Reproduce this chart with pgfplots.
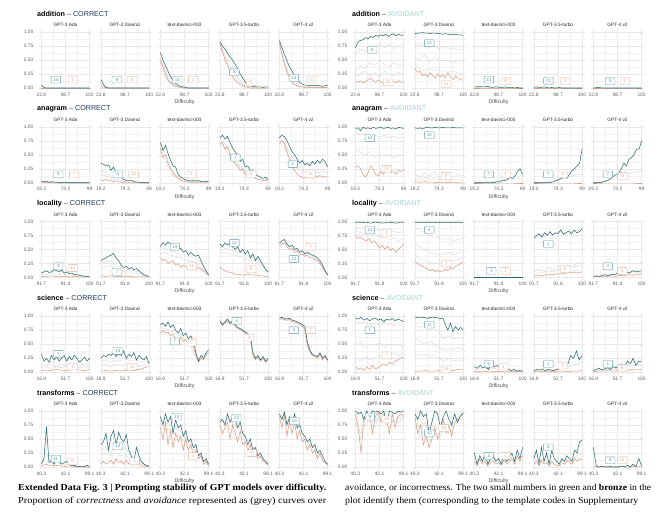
\documentclass[border=0pt]{standalone}
\usepackage{pgfplots}
\pgfplotsset{compat=1.18}
\usepackage{graphicx}
\usepackage{fontspec}
\setmainfont{Liberation Sans}
\newfontfamily\capfont{Liberation Serif}
\definecolor{tealc}{HTML}{2D6A6F}
\definecolor{bronzec}{HTML}{D9977C}
\definecolor{greyc}{HTML}{D6D6D6}
\definecolor{tealL}{HTML}{5C9CA3}
\definecolor{bronzeL}{HTML}{E3AD96}
\definecolor{navy}{HTML}{1E3A5F}
\definecolor{avoid}{HTML}{A3D4D6}
\pgfplotsset{
 every axis title shift=0pt,
 tl/.style={color=tealc,line width=0.55bp},
 br/.style={color=bronzec,line width=0.5bp},
 gr/.style={color=greyc,line width=0.4bp},
 pan/.style={scale only axis,width=53bp,height=61.6bp,anchor=north west,
  xmin=-0.05,xmax=1.05,ymin=-0.05,ymax=1.05,
  xtick={0,0.5,1},ytick={0,0.25,0.5,0.75,1},
  minor xtick={0.25,0.75},minor ytick={0.125,0.375,0.625,0.875},
  grid=both,major grid style={draw=black!9,line width=0.35bp},
  minor grid style={draw=black!5,line width=0.25bp},
  axis line style={draw=none},major tick length=0pt,minor tick length=0pt,
  yticklabels={},
  tick label style={font=\fontsize{4.9}{5}\selectfont,text=black!62},
  xticklabel style={anchor=north,inner sep=0pt,yshift=-1.6bp},
  yticklabel style={anchor=east,inner sep=0pt,xshift=-5.5bp},
  /pgf/number format/assume math mode=true,
  title style={font=\fontsize{4.8}{5}\selectfont,text=black!85,anchor=south,at={(0.5,1)},inner sep=0pt,yshift=2.4bp}},
 ylab/.style={yticklabels={0.00,0.25,0.50,0.75,1.00}},
 gadd/.style={xticklabels={22.8,98.7,100}},
 gana/.style={xticklabels={19.2,74.3,99}},
 gloc/.style={xticklabels={91.7,91.8,100}},
 gsci/.style={xticklabels={16.9,51.7,100}},
 gtra/.style={xticklabels={40.3,42.1,99.1}},
}
\tikzset{lab/.style={fill=white,rounded corners=0.6bp,line width=0.35bp,inner sep=0.6bp,minimum width=9.5bp,minimum height=6.8bp,font=\fontsize{4.5}{4.5}\selectfont}}
\newcount\Lcnt
\newcommand\Lp[2]{%
  \global\Lcnt=0
  \foreach \v in {#2}{\global\advance\Lcnt by 1 }%
  \gdef\Lpts{}%
  \foreach \v [count=\i from 0] in {#2}{%
    \pgfmathsetmacro\xx{\i/(\the\Lcnt-1)}%
    \xdef\Lpts{\Lpts(\xx,\v)}%
  }%
  \edef\Ltmp{\noexpand\addplot[#1] coordinates {\Lpts};}%
  \Ltmp}
\newcommand\T[1]{\Lp{tl}{#1}}
\newcommand\B[1]{\Lp{br}{#1}}
\newcommand\G[1]{\Lp{gr}{#1}}
\newcommand\lt[3]{\node[lab,draw=tealL,text=tealL] at (axis cs:#1,#2) {#3};}
\newcommand\lb[3]{\node[lab,draw=bronzeL,text=bronzeL] at (axis cs:#1,#2) {#3};}
\newcommand\panel[5]{\begin{axis}[pan,at={(#1bp,#2bp)},title={#3},#4]
#5
\end{axis}}
\newcommand\gtitle[4]{\node[anchor=west,inner sep=0pt,font=\fontsize{7.2}{8}\selectfont] at (#1bp,#2bp) {\textbf{#3} {\color{black!80}–} #4};}
\newcommand\difl[2]{\node[inner sep=0pt,font=\fontsize{5.3}{6}\selectfont,text=black!70] at (#1bp,#2bp) {Difficulty};}
\begin{document}
\begin{tikzpicture}
\useasboundingbox (0,0) rectangle (670bp,-519bp);
% ================= ROW 0 : addition =================
\gtitle{37}{-14}{addition}{\textcolor{navy}{CORRECT}}
\gtitle{352}{-14}{addition}{\textcolor{avoid}{AVOIDANT}}
\difl{184.5}{-102}\difl{498.5}{-102}
\panel{39}{-29.2}{GPT-3 Ada}{gadd,ylab}{
\G{0.02,0,0,0,0,0,0,0,0,0,0}
\B{0,0,0,0,0,0,0,0,0,0,0}
\T{0.05,0.01,0,0,0,0,0,0,0,0,0,0,0,0,0,0,0,0,0,0}
\lt{0.3}{0.15}{14}\lb{0.65}{0.15}{1}}
\panel{98.5}{-29.2}{GPT-3 Davinci}{gadd}{
\G{0.08,0.02,0,0,0,0,0,0,0,0,0}
\B{0.03,0,0,0,0,0,0,0,0,0,0}
\T{0.15,0.06,0.01,0,0,0,0,0,0,0,0,0,0,0,0,0,0,0,0,0}
\lt{0.33}{0.15}{8}\lb{0.65}{0.15}{5}}
\panel{158}{-29.2}{text-davinci-003}{gadd}{
\G{0.55,0.3,0.12,0.05,0.02,0,0,0,0,0,0}
\G{0.45,0.2,0.08,0.03,0.01,0,0,0,0,0,0}
\B{0.5,0.38,0.25,0.15,0.1,0.06,0.03,0.02,0.01,0,0,0,0,0,0,0,0,0,0,0}
\T{0.63,0.5,0.4,0.3,0.2,0.13,0.08,0.05,0.03,0.02,0.01,0,0,0,0,0,0,0,0,0}
\lt{0.35}{0.15}{14}\lb{0.68}{0.15}{1}}
\panel{217.5}{-29.2}{GPT-3.5-turbo}{gadd}{
\G{0.8,0.6,0.42,0.28,0.15,0.06,0.03,0.01,0,0,0}
\G{0.78,0.55,0.35,0.22,0.1,0.04,0.02,0.01,0,0,0}
\B{0.8,0.65,0.5,0.4,0.3,0.2,0.14,0.1,0.06,0.04,0.02,0.01,0,0,0,0,0,0,0,0}
\T{0.83,0.75,0.7,0.62,0.55,0.5,0.42,0.35,0.25,0.18,0.1,0.06,0.04,0.03,0.02,0.02,0.02,0.01,0.02,0.02}
\lt{0.3}{0.28}{8}\lb{0.65}{0.1}{2}}
\panel{277}{-29.2}{GPT-4 v2}{gadd}{
\G{0.83,0.5,0.25,0.12,0.05,0.03,0.02,0.02,0.02,0.02,0.02}
\G{0.8,0.45,0.2,0.08,0.03,0.02,0.01,0.01,0.01,0.01,0.01}
\B{0.8,0.6,0.42,0.28,0.18,0.1,0.06,0.04,0.02,0.02,0.01,0.01,0.01,0.01,0.01,0.01,0.01,0.01,0.01,0.01}
\T{0.85,0.72,0.6,0.48,0.38,0.3,0.22,0.15,0.1,0.07,0.05,0.05,0.04,0.05,0.04,0.05,0.04,0.03,0.04,0.05}
\lt{0.3}{0.18}{14}\lb{0.68}{0.15}{11}}
\panel{353}{-29.2}{GPT-3 Ada}{gadd,ylab}{
\G{0.6,0.7,0.65,0.75,0.7,0.8,0.72,0.78,0.7,0.75,0.8}
\G{0.3,0.4,0.35,0.45,0.4,0.5,0.42,0.38,0.45,0.4,0.42}
\G{0.2,0.25,0.3,0.22,0.28,0.2,0.3,0.25,0.22,0.28,0.25}
\B{0.12,0.1,0.13,0.09,0.11,0.15,0.17,0.13,0.1,0.14,0.12,0.08,0.13,0.1,0.15,0.12,0.09,0.13,0.1,0.11}
\T{0.72,0.82,0.85,0.86,0.9,0.88,0.92,0.9,0.94,0.92,0.95,0.93,0.96,0.92,0.95,0.97,0.93,0.96,0.94,0.95}
\lt{0.35}{0.68}{8}\lb{0.68}{0.1}{10}}
\panel{412.5}{-29.2}{GPT-3 Davinci}{gadd}{
\G{0.8,0.75,0.8,0.72,0.78,0.7,0.75,0.7,0.72,0.68,0.7}
\G{0.55,0.5,0.6,0.45,0.55,0.5,0.48,0.5,0.45,0.5,0.48}
\G{0.4,0.35,0.3,0.35,0.3,0.33,0.3,0.28,0.3,0.27,0.25}
\B{0.35,0.28,0.3,0.22,0.25,0.2,0.27,0.22,0.18,0.25,0.2,0.23,0.18,0.27,0.2,0.15,0.22,0.17,0.15,0.14}
\T{0.97,0.98,0.98,0.99,0.98,0.98,0.97,0.98,0.98,0.97,0.97,0.96,0.97,0.96,0.96,0.95,0.96,0.95,0.95,0.94}
\lt{0.3}{0.8}{14}\lb{0.65}{0.07}{12}}
\panel{472}{-29.2}{text-davinci-003}{gadd}{
\G{0.01,0.01,0.02,0.01,0.01,0,0.01,0,0,0,0}
\B{0,0,0,0,0}
\T{0.02,0.02,0.03,0.02,0.02,0.03,0.02,0.01,0.02,0.02,0.01,0.01,0.02,0.01,0.01,0.01,0,0.01,0,0}
\lt{0.3}{0.15}{13}\lb{0.65}{0.12}{8}}
\panel{531.5}{-29.2}{GPT-3.5-turbo}{gadd}{
\B{0,0,0,0,0}
\T{0.01,0.02,0.01,0.01,0.02,0.01,0,0.01,0,0,0.01,0,0,0,0,0,0,0,0,0}
\lt{0.3}{0.13}{13}\lb{0.65}{0.12}{1}}
\panel{591}{-29.2}{GPT-4 v2}{gadd}{
\B{0,0,0,0,0}
\T{0,0.01,0,0,0,0,0,0,0,0,0}
\lt{0.35}{0.12}{5}\lb{0.65}{0.12}{1}}
% ================= ROW 1 : anagram =================
\gtitle{37}{-108.75}{anagram}{\textcolor{navy}{CORRECT}}
\gtitle{352}{-108.75}{anagram}{\textcolor{avoid}{AVOIDANT}}
\difl{184.5}{-196.75}\difl{498.5}{-196.75}
\panel{39}{-123.95}{GPT-3 Ada}{gana,ylab}{
\G{0.02,0.01,0,0,0,0}
\B{0.01,0,0,0,0,0}
\T{0.02,0.02,0.03,0.01,0.02,0.01,0.01,0,0,0.01,0,0,0,0,0,0,0,0,0,0}
\lt{0.35}{0.15}{9}\lb{0.68}{0.15}{7}}
\panel{98.5}{-123.95}{GPT-3 Davinci}{gana}{
\G{0.22,0.18,0.12,0.1,0.05,0.02,0.01,0,0,0,0}
\G{0.15,0.12,0.08,0.05,0.03,0.01,0,0,0,0,0}
\B{0.05,0.04,0.06,0.03,0.04,0.02,0.03,0.01,0.01,0,0,0,0,0,0,0,0,0,0,0}
\T{0.35,0.33,0.3,0.32,0.22,0.28,0.18,0.2,0.1,0.06,0.04,0.03,0.05,0.02,0.01,0.01,0,0,0,0}
\lt{0.35}{0.15}{5}\lb{0.68}{0.15}{13}}
\panel{158}{-123.95}{text-davinci-003}{gana}{
\G{0.68,0.5,0.3,0.15,0.08,0.04,0.03,0.02,0.02,0.02,0.02}
\G{0.55,0.4,0.2,0.1,0.05,0.02,0.01,0.01,0.01,0.01,0.01}
\B{0.62,0.45,0.5,0.35,0.25,0.18,0.12,0.08,0.05,0.03,0.02,0.01,0.01,0,0,0,0,0,0,0}
\T{0.72,0.58,0.67,0.52,0.4,0.3,0.28,0.15,0.1,0.08,0.05,0.04,0.03,0.05,0.03,0.04,0.02,0.03,0.02,0.02}
\lb{0.65}{0.15}{1}}
\panel{217.5}{-123.95}{GPT-3.5-turbo}{gana}{
\G{0.78,0.7,0.55,0.42,0.32,0.22,0.15,0.12,0.08,0.06,0.05}
\G{0.72,0.62,0.48,0.35,0.25,0.17,0.12,0.09,0.06,0.05,0.04}
\B{0.7,0.72,0.6,0.65,0.5,0.4,0.35,0.3,0.22,0.25,0.15,0.18,0.12,0.1,0.08,0.06,0.05,0.04,0.05,0.03}
\T{0.8,0.85,0.78,0.83,0.72,0.62,0.55,0.5,0.38,0.42,0.28,0.3,0.2,0.22,0.15,0.12,0.1,0.08,0.1,0.06}
\lt{0.32}{0.45}{7}\lb{0.65}{0.15}{3}}
\panel{277}{-123.95}{GPT-4 v2}{gana}{
\G{0.78,0.72,0.55,0.42,0.3,0.25,0.22,0.25,0.22,0.25,0.2}
\G{0.72,0.65,0.45,0.32,0.25,0.2,0.18,0.2,0.18,0.2,0.17}
\B{0.7,0.75,0.7,0.55,0.42,0.3,0.22,0.15,0.12,0.1,0.08,0.12,0.1,0.08,0.12,0.1,0.13,0.1,0.12,0.1}
\T{0.8,0.85,0.82,0.75,0.65,0.55,0.5,0.42,0.35,0.4,0.32,0.35,0.3,0.38,0.33,0.4,0.35,0.42,0.38,0.28}
\lt{0.28}{0.33}{1}\lb{0.65}{0.15}{8}}
\panel{353}{-123.95}{GPT-3 Ada}{gana,ylab}{
\G{0.9,0.85,0.88,0.8,0.85,0.82,0.85,0.8,0.83,0.8,0.82}
\G{0.6,0.55,0.5,0.55,0.45,0.5,0.48,0.5,0.45,0.5,0.48}
\B{0.28,0.3,0.25,0.15,0.1,0.18,0.3,0.25,0.15,0.12,0.2,0.15,0.22,0.28,0.18,0.2,0.15,0.22,0.2,0.24}
\T{0.97,0.98,0.93,0.99,0.97,0.98,0.96,0.99,0.97,0.98,0.99,0.97,0.98,0.99,0.97,0.98,0.96,0.99,0.98,0.97}
\lt{0.3}{0.8}{14}\lb{0.65}{0.25}{10}}
\panel{412.5}{-123.95}{GPT-3 Davinci}{gana}{
\G{0.15,0.1,0.18,0.12,0.2,0.1,0.15,0.12,0.1,0.15,0.12}
\G{0.08,0.05,0.1,0.06,0.08,0.05,0.07,0.04,0.06,0.05,0.04}
\B{0.02,0.01,0.02,0.01,0.01,0,0.01,0,0.01,0,0}
\T{0.98,0.97,0.98,0.96,0.98,0.99,0.98,0.98,0.99,0.98,0.98,0.99,0.98,0.98,0.98,0.99,0.98,0.98,0.98,0.98}
\lt{0.3}{0.85}{10}\lb{0.65}{0.12}{8}}
\panel{472}{-123.95}{text-davinci-003}{gana}{
\G{0,0,0,0.01,0.02,0.03,0.04,0.05,0.06,0.08,0.07}
\B{0,0,0,0,0}
\T{0,0,0,0,0,0,0,0,0,0.02,0.01,0.05,0.04,0.06,0.1,0.08,0.12,0.2,0.25,0.15}
\lt{0.3}{0.15}{7}\lb{0.65}{0.15}{1}}
\panel{531.5}{-123.95}{GPT-3.5-turbo}{gana}{
\G{0,0,0.01,0.02,0.04,0.06,0.08,0.1,0.12,0.14,0.16}
\B{0,0,0,0,0}
\T{0,0,0,0,0,0,0,0.01,0.02,0.04,0.06,0.08,0.1,0.08,0.15,0.22,0.25,0.3,0.35,0.6}
\lt{0.3}{0.15}{7}\lb{0.6}{0.15}{1}}
\panel{591}{-123.95}{GPT-4 v2}{gana}{
\G{0,0.01,0.02,0.04,0.07,0.1,0.12,0.15,0.18,0.2,0.22}
\B{0,0,0,0,0}
\T{0,0,0.01,0,0.02,0.03,0.05,0.08,0.12,0.15,0.18,0.25,0.35,0.3,0.42,0.45,0.5,0.6,0.6,0.75}
\lt{0.3}{0.15}{7}\lb{0.6}{0.12}{11}}
% ================= ROW 2 : locality =================
\gtitle{37}{-203.5}{locality}{\textcolor{navy}{CORRECT}}
\gtitle{352}{-203.5}{locality}{\textcolor{avoid}{AVOIDANT}}
\difl{184.5}{-291.5}\difl{498.5}{-291.5}
\panel{39}{-218.7}{GPT-3 Ada}{gloc,ylab}{
\G{0.05,0.06,0.07,0.06,0.07,0.05,0.05,0.04,0.03,0.02,0.01}
\B{0.02,0.02,0.03,0.02,0.02,0.02,0.01,0.02,0.01,0.01,0.01}
\T{0.08,0.1,0.12,0.09,0.1,0.14,0.12,0.1,0.13,0.08,0.1,0.07,0.08,0.05,0.05,0.04,0.03,0.02,0.02,0.01}
\lt{0.35}{0.2}{3}\lb{0.65}{0.17}{14}}
\panel{98.5}{-218.7}{GPT-3 Davinci}{gloc}{
\G{0.25,0.28,0.3,0.22,0.18,0.15,0.14,0.12,0.1,0.05,0.02}
\G{0.15,0.2,0.22,0.15,0.12,0.1,0.1,0.08,0.06,0.03,0.01}
\B{0.03,0.02,0.03,0.02,0.02,0.02,0.02,0.01,0.01,0.01,0.01}
\T{0.3,0.33,0.35,0.38,0.4,0.43,0.35,0.3,0.22,0.18,0.2,0.15,0.18,0.14,0.16,0.12,0.08,0.05,0.03,0.02}
\lt{0.33}{0.1}{7}}
\panel{158}{-218.7}{text-davinci-003}{gloc}{
\G{0.5,0.52,0.48,0.45,0.42,0.4,0.35,0.35,0.3,0.18,0.05}
\G{0.42,0.45,0.4,0.38,0.35,0.32,0.3,0.28,0.22,0.12,0.03}
\B{0.35,0.3,0.32,0.25,0.28,0.3,0.22,0.25,0.18,0.22,0.2,0.15,0.2,0.18,0.15,0.18,0.15,0.12,0.08,0.04}
\T{0.55,0.62,0.58,0.63,0.6,0.55,0.58,0.5,0.52,0.45,0.48,0.4,0.45,0.4,0.38,0.4,0.3,0.2,0.12,0.05}
\lt{0.3}{0.55}{14}\lb{0.65}{0.2}{11}}
\panel{217.5}{-218.7}{GPT-3.5-turbo}{gloc}{
\G{0.55,0.52,0.5,0.48,0.45,0.42,0.38,0.35,0.3,0.22,0.1}
\G{0.45,0.45,0.42,0.4,0.38,0.35,0.32,0.3,0.25,0.18,0.08}
\B{0.18,0.15,0.12,0.1,0.09,0.08,0.06,0.05,0.05,0.04,0.05,0.06,0.05,0.04,0.05,0.04,0.03,0.03,0.02,0.02}
\T{0.6,0.55,0.62,0.58,0.62,0.55,0.5,0.55,0.45,0.5,0.42,0.48,0.35,0.42,0.3,0.38,0.3,0.22,0.15,0.1}
\lt{0.3}{0.62}{12}\lb{0.65}{0.15}{8}}
\panel{277}{-218.7}{GPT-4 v2}{gloc}{
\G{0.6,0.62,0.55,0.5,0.48,0.45,0.42,0.38,0.3,0.2,0.05}
\B{0.58,0.6,0.62,0.55,0.5,0.52,0.45,0.47,0.4,0.42,0.38,0.4,0.36,0.35,0.32,0.3,0.25,0.18,0.1,0.04}
\T{0.62,0.65,0.68,0.6,0.55,0.58,0.5,0.52,0.45,0.48,0.42,0.45,0.42,0.4,0.38,0.35,0.3,0.22,0.12,0.05}
\lt{0.3}{0.33}{12}\lb{0.65}{0.55}{7}}
\panel{353}{-218.7}{GPT-3 Ada}{gloc,ylab}{
\G{0.9,0.88,0.9,0.85,0.87,0.85,0.83,0.85,0.82,0.8,0.82}
\G{0.85,0.8,0.78,0.75,0.78,0.72,0.7,0.68,0.7,0.65,0.7}
\B{0.75,0.7,0.72,0.68,0.65,0.7,0.62,0.66,0.6,0.52,0.58,0.5,0.56,0.48,0.52,0.45,0.5,0.55,0.6}
\T{0.98,0.99,0.98,0.98,0.99,0.98,0.97,0.98,0.99,0.98,0.98,0.97,0.98,0.99,0.98,0.98,0.97,0.98,0.99,0.98}
\lt{0.3}{0.85}{14}\lb{0.65}{0.8}{1}}
\panel{412.5}{-218.7}{GPT-3 Davinci}{gloc}{
\G{0.9,0.85,0.8,0.75,0.7,0.72,0.68,0.7,0.65,0.68,0.7}
\G{0.6,0.55,0.5,0.45,0.42,0.4,0.42,0.45,0.4,0.45,0.48}
\G{0.4,0.35,0.3,0.28,0.25,0.25,0.28,0.3,0.3,0.32,0.35}
\B{0.3,0.25,0.22,0.2,0.17,0.15,0.12,0.15,0.1,0.13,0.1,0.12,0.15,0.12,0.18,0.15,0.2,0.22,0.25,0.28}
\T{0.98,0.98,0.99,0.98,0.98,0.99,0.98,0.98,0.98,0.99,0.98,0.98,0.98,0.99,0.98,0.98,0.98,0.99,0.98,0.98}
\lt{0.3}{0.85}{4}\lb{0.65}{0.25}{7}}
\panel{472}{-218.7}{text-davinci-003}{gloc}{
\B{0,0,0,0,0}
\T{0,0,0,0,0,0}
\lt{0.35}{0.12}{1}\lb{0.65}{0.12}{1}}
\panel{531.5}{-218.7}{GPT-3.5-turbo}{gloc}{
\G{0.1,0.15,0.12,0.18,0.15,0.2,0.18,0.22,0.2,0.25,0.28}
\G{0.05,0.08,0.1,0.12,0.1,0.14,0.15,0.18,0.2,0.2,0.22}
\B{0.02,0.03,0.04,0.03,0.05,0.04,0.06,0.05,0.07,0.06,0.08,0.07,0.09,0.08,0.1,0.08,0.09,0.1}
\T{0.7,0.75,0.78,0.72,0.8,0.75,0.82,0.76,0.8,0.78,0.85,0.77,0.8,0.83,0.78,0.85,0.8,0.82,0.87}
\lt{0.3}{0.6}{1}\lb{0.65}{0.15}{8}}
\panel{591}{-218.7}{GPT-4 v2}{gloc}{
\G{0.01,0.02,0.03,0.03,0.05,0.05,0.06,0.07,0.08,0.08,0.09}
\B{0.01,0.02,0.01,0.02,0.03,0.02,0.04,0.03,0.05,0.04,0.06,0.05}
\T{0.02,0.03,0.02,0.04,0.05,0.03,0.06,0.05,0.08,0.06,0.07,0.1,0.08,0.12,0.1,0.11,0.12}
\lt{0.3}{0.2}{3}\lb{0.6}{0.12}{6}}
% ================= ROW 3 : science =================
\gtitle{37}{-298.25}{science}{\textcolor{navy}{CORRECT}}
\gtitle{352}{-298.25}{science}{\textcolor{avoid}{AVOIDANT}}
\difl{184.5}{-386.25}\difl{498.5}{-386.25}
\panel{39}{-313.45}{GPT-3 Ada}{gsci,ylab}{
\G{0.15,0.12,0.18,0.1,0.15,0.12,0.15,0.1,0.12,0.15,0.12}
\G{0.08,0.1,0.06,0.1,0.08,0.1,0.07,0.09,0.08,0.1,0.08}
\B{0.03,0.04,0.03,0.05,0.04,0.03,0.04,0.05,0.04,0.03,0.05}
\T{0.32,0.2,0.25,0.18,0.3,0.22,0.28,0.2,0.25,0.3,0.2,0.28,0.22,0.3,0.25,0.18,0.22,0.27,0.2,0.25}
\lt{0.35}{0.33}{7}\lb{0.65}{0.1}{1}}
\panel{98.5}{-313.45}{GPT-3 Davinci}{gsci}{
\G{0.2,0.22,0.18,0.22,0.2,0.25,0.2,0.22,0.2,0.18,0.2}
\G{0.12,0.15,0.1,0.14,0.12,0.15,0.12,0.14,0.1,0.12,0.12}
\B{0.02,0.03,0.02,0.03,0.02,0.03,0.04,0.03,0.05,0.08,0.1}
\T{0.25,0.3,0.28,0.32,0.3,0.35,0.28,0.33,0.3,0.38,0.25,0.32,0.28,0.35,0.22,0.3,0.25,0.22,0.28,0.15}
\lt{0.35}{0.38}{14}\lb{0.65}{0.1}{11}}
\panel{158}{-313.45}{text-davinci-003}{gsci}{
\G{0.8,0.78,0.75,0.7,0.65,0.6,0.55,0.3,0.25,0.3,0.35}
\B{0.7,0.75,0.7,0.72,0.65,0.68,0.6,0.58,0.62,0.55,0.58,0.5,0.55,0.45,0.3,0.18,0.25,0.22,0.3,0.35}
\T{0.85,0.88,0.82,0.9,0.8,0.85,0.75,0.7,0.78,0.65,0.7,0.6,0.65,0.55,0.35,0.2,0.3,0.25,0.35,0.4}
\lt{0.3}{0.55}{7}\lb{0.65}{0.53}{7}}
\panel{217.5}{-313.45}{GPT-3.5-turbo}{gsci}{
\G{0.9,0.88,0.9,0.85,0.8,0.75,0.7,0.3,0.25,0.22,0.25}
\B{0.9,0.83,0.88,0.92,0.85,0.9,0.82,0.78,0.76,0.72,0.7,0.65,0.6,0.3,0.22,0.27,0.2,0.25,0.18,0.22}
\T{0.92,0.85,0.9,0.95,0.88,0.92,0.85,0.8,0.78,0.75,0.72,0.68,0.65,0.35,0.25,0.3,0.22,0.28,0.2,0.25}
\lt{0.35}{0.92}{4}\lb{0.6}{0.62}{4}}
\panel{277}{-313.45}{GPT-4 v2}{gsci}{
\G{0.95,0.93,0.92,0.9,0.85,0.8,0.4,0.3,0.28,0.3,0.25}
\B{0.95,0.96,0.94,0.93,0.95,0.9,0.9,0.88,0.85,0.82,0.78,0.5,0.35,0.3,0.28,0.25,0.32,0.22,0.28,0.2}
\T{0.97,0.98,0.96,0.95,0.97,0.93,0.92,0.9,0.88,0.85,0.82,0.55,0.4,0.32,0.3,0.28,0.35,0.25,0.3,0.22}
\lt{0.3}{0.75}{8}\lb{0.65}{0.75}{7}}
\panel{353}{-313.45}{GPT-3 Ada}{gsci,ylab}{
\G{0.9,0.88,0.9,0.85,0.88,0.85,0.87,0.85,0.83,0.85,0.82}
\G{0.5,0.55,0.45,0.5,0.48,0.52,0.45,0.5,0.48,0.5,0.45}
\G{0.25,0.2,0.28,0.22,0.25,0.3,0.25,0.3,0.35,0.3,0.35}
\B{0.1,0.05,0.08,0.03,0.1,0.05,0.12,0.06,0.08,0.12,0.15,0.12,0.18,0.15,0.2,0.22,0.25,0.28}
\T{0.97,0.95,0.98,0.93,0.96,0.92,0.95,0.97,0.93,0.95,0.9,0.95,0.93,0.96,0.92,0.95,0.93,0.9}
\lt{0.3}{0.75}{1}\lb{0.65}{0.3}{7}}
\panel{412.5}{-313.45}{GPT-3 Davinci}{gsci}{
\G{0.85,0.8,0.82,0.75,0.78,0.7,0.6,0.65,0.6,0.62,0.6}
\G{0.6,0.55,0.5,0.55,0.5,0.45,0.4,0.42,0.4,0.45,0.4}
\G{0.35,0.3,0.32,0.28,0.3,0.25,0.2,0.25,0.2,0.22,0.2}
\B{0.02,0.02,0.03,0.02,0.02,0.03,0.02,0.04,0.03,0.05,0.04}
\T{0.97,0.98,0.97,0.98,0.98,0.96,0.98,0.97,0.98,0.97,0.96,0.97,0.85,0.75,0.88,0.72,0.82,0.75,0.8,0.76}
\lt{0.3}{0.85}{11}\lb{0.65}{0.05}{14}}
\panel{472}{-313.45}{text-davinci-003}{gsci}{
\G{0.06,0.05,0.08,0.06,0.07,0.05,0.06,0.04,0.03,0.02,0.02}
\B{0.01,0.01,0.02,0.01,0.01,0.01,0.01}
\T{0.1,0.07,0.12,0.08,0.1,0.05,0.15,0.1,0.12,0.08,0.1,0.05,0.06,0.03,0.05,0.02,0.03,0.02}
\lt{0.3}{0.15}{5}\lb{0.6}{0.1}{1}}
\panel{531.5}{-313.45}{GPT-3.5-turbo}{gsci}{
\G{0.02,0.03,0.04,0.03,0.04,0.05,0.08,0.1,0.12,0.15,0.18}
\B{0.01,0.02,0.01,0.02,0.01,0.02,0.02,0.01,0.02,0.02,0.03}
\T{0.03,0.05,0.04,0.06,0.03,0.05,0.04,0.03,0.05,0.06,0.08,0.1,0.15,0.3,0.25,0.38,0.22,0.3}
\lt{0.3}{0.15}{1}\lb{0.6}{0.12}{1}}
\panel{591}{-313.45}{GPT-4 v2}{gsci}{
\G{0.02,0.04,0.05,0.06,0.05,0.08,0.1,0.12,0.1,0.15,0.12}
\B{0.01,0.02,0.02,0.03,0.02,0.03,0.04,0.03,0.05,0.04,0.05}
\T{0.03,0.05,0.07,0.04,0.06,0.08,0.05,0.1,0.08,0.12,0.15,0.1,0.2,0.15,0.25,0.12,0.2,0.18}
\lt{0.3}{0.15}{1}\lb{0.6}{0.08}{6}}
% ================= ROW 4 : transforms =================
\gtitle{37}{-393}{transforms}{\textcolor{navy}{CORRECT}}
\gtitle{352}{-393}{transforms}{\textcolor{avoid}{AVOIDANT}}
\difl{184.5}{-481}\difl{498.5}{-481}
\panel{39}{-408.2}{GPT-3 Ada}{gtra,ylab}{
\G{0.05,0.25,0.05,0.1,0.06,0.05,0.03,0.02,0.01,0.01,0.01}
\B{0.02,0.05,0.02,0.03,0.02,0.01,0.02,0.01,0.01,0,0}
\T{0.05,0.15,0.72,0.08,0.12,0.05,0.15,0.1,0.05,0.08,0.1,0.05,0.02,0.03,0,0.01,0,0.01,0.03,0.01}
\lt{0.3}{0.15}{11}\lb{0.65}{0.1}{5}}
\panel{98.5}{-408.2}{GPT-3 Davinci}{gtra}{
\G{0.3,0.35,0.25,0.4,0.3,0.35,0.2,0.15,0.1,0.05,0.02}
\G{0.2,0.25,0.2,0.25,0.2,0.22,0.15,0.1,0.08,0.03,0.01}
\B{0.05,0.1,0.05,0.08,0.12,0.05,0.15,0.08,0.1,0.05,0.12,0.05,0.08,0.03,0.1,0.05,0.02,0.01,0.01,0}
\T{0.4,0.45,0.6,0.3,0.55,0.65,0.4,0.62,0.5,0.45,0.58,0.3,0.2,0.1,0.35,0.2,0.1,0.05,0.03,0.02}
\lt{0.35}{0.37}{14}\lb{0.7}{0.1}{1}}
\panel{158}{-408.2}{text-davinci-003}{gtra}{
\G{0.85,0.8,0.75,0.7,0.65,0.55,0.45,0.35,0.25,0.12,0.05}
\G{0.75,0.65,0.7,0.6,0.55,0.45,0.4,0.3,0.2,0.1,0.03}
\B{0.7,0.5,0.8,0.4,0.65,0.35,0.6,0.45,0.55,0.3,0.5,0.3,0.4,0.2,0.3,0.15,0.2,0.05,0.1,0.02}
\T{0.9,0.75,0.95,0.8,0.9,0.6,0.85,0.7,0.75,0.55,0.65,0.45,0.5,0.35,0.4,0.2,0.25,0.1,0.15,0.05}
\lt{0.34}{0.9}{13}\lb{0.68}{0.2}{1}}
\panel{217.5}{-408.2}{GPT-3.5-turbo}{gtra}{
\G{0.8,0.82,0.85,0.75,0.7,0.55,0.45,0.3,0.2,0.12,0.05}
\B{0.75,0.6,0.7,0.8,0.5,0.75,0.6,0.45,0.65,0.4,0.45,0.3,0.4,0.2,0.25,0.15,0.2,0.1,0.08,0.03}
\T{0.8,0.85,0.75,0.95,0.8,0.9,0.85,0.7,0.8,0.6,0.55,0.4,0.5,0.3,0.35,0.2,0.25,0.15,0.1,0.05}
\lt{0.34}{0.87}{13}\lb{0.66}{0.25}{9}}
\panel{277}{-408.2}{GPT-4 v2}{gtra}{
\G{0.9,0.85,0.8,0.75,0.65,0.5,0.45,0.35,0.25,0.12,0.05}
\B{0.9,0.7,0.95,0.55,0.85,0.6,0.8,0.5,0.65,0.45,0.5,0.3,0.4,0.25,0.3,0.15,0.25,0.12,0.08,0.03}
\T{0.95,0.85,0.98,0.75,0.9,0.8,0.95,0.7,0.75,0.6,0.55,0.45,0.5,0.35,0.4,0.25,0.3,0.2,0.1,0.05}
\lt{0.31}{0.82}{13}}
\panel{353}{-408.2}{GPT-3 Ada}{gtra,ylab}{
\G{0.9,0.6,0.85,0.9,0.8,0.95,0.85,0.9,0.8,0.9,0.85}
\G{0.8,0.5,0.75,0.85,0.7,0.9,0.8,0.7,0.85,0.8,0.9}
\B{0.95,0.7,0.25,0.9,0.85,0.95,0.6,0.9,0.98,0.8,0.95,0.85,0.6,0.95,0.7,0.9,0.95,0.9}
\T{1,0.95,0.98,0.85,1,0.9,1,0.98,1,0.95,1,0.8,1,0.98,0.95,1,0.98,1}
\lt{0.3}{0.9}{9}\lb{0.65}{0.85}{10}}
\panel{412.5}{-408.2}{GPT-3 Davinci}{gtra}{
\G{0.85,0.7,0.8,0.6,0.75,0.65,0.8,0.7,0.85,0.9,0.95}
\G{0.75,0.55,0.65,0.45,0.6,0.5,0.7,0.6,0.75,0.8,0.9}
\B{0.9,0.6,0.75,0.4,0.55,0.35,0.5,0.7,0.5,0.65,0.85,0.6,0.75,0.55,0.8,0.85,0.9,0.95}
\T{0.95,0.85,1,0.9,0.95,0.6,0.8,1,0.95,0.7,0.9,1,0.85,0.75,0.95,0.8,0.9,0.97}
\lt{0.3}{0.6}{10}\lb{0.6}{0.7}{12}}
\panel{472}{-408.2}{text-davinci-003}{gtra}{
\G{0.15,0.1,0.12,0.1,0.15,0.1,0.12,0.15,0.12,0.18,0.2}
\B{0.1,0.02,0.15,0.05,0.1,0.02,0.08,0.1,0.05,0.08,0.03,0.12,0.05,0.1,0.15,0.05,0.2,0.1,0.2}
\T{0.25,0.05,0.2,0.1,0.25,0.05,0.15,0.2,0.1,0.15,0.05,0.2,0.1,0.15,0.25,0.1,0.3,0.15,0.35}
\lt{0.3}{0.2}{3}\lb{0.65}{0.2}{1}}
\panel{531.5}{-408.2}{GPT-3.5-turbo}{gtra}{
\G{0.1,0.15,0.12,0.1,0.08,0.1,0.12,0.1,0.15,0.2,0.25}
\B{0.05,0.1,0.02,0.12,0.05,0.08,0.02,0.1,0.05,0.03,0.02,0.08,0.05,0.12,0.08,0.05,0.15,0.1,0.15,0.12}
\T{0.15,0.3,0.05,0.35,0.1,0.25,0.05,0.3,0.15,0.1,0.05,0.15,0.1,0.2,0.15,0.1,0.3,0.25,0.45,0.48}
\lt{0.3}{0.35}{6}}
\panel{591}{-408.2}{GPT-4 v2}{gtra}{
\B{0.02,0,0.01,0,0,0.01,0,0,0.02,0}
\T{0.35,0.02,0,0.01,0,0,0.01,0,0,0,0.02,0,0.03,0,0.05,0,0.15,0.02}
\lt{0.35}{0.12}{9}\lb{0.6}{0.12}{11}}
% ================= caption =================
\node[anchor=west,inner sep=0pt] at (18bp,-488bp) {\resizebox{308bp}{\height}{\capfont\fontsize{9.2}{10}\selectfont\textbf{Extended Data Fig. 3 | Prompting stability of GPT models over difficulty.}}};
\node[anchor=west,inner sep=0pt] at (18bp,-501bp) {\resizebox{308bp}{\height}{\capfont\fontsize{9.2}{10}\selectfont Proportion of \textit{correctness} and \textit{avoidance} represented as (grey) curves over}};
\node[anchor=west,inner sep=0pt] at (345bp,-488bp) {\resizebox{306bp}{\height}{\capfont\fontsize{9.2}{10}\selectfont avoidance, or incorrectness. The two small numbers in green and \textbf{bronze} in the}};
\node[anchor=west,inner sep=0pt] at (345bp,-501bp) {\resizebox{293bp}{\height}{\capfont\fontsize{9.2}{10}\selectfont plot identify them (corresponding to the template codes in Supplementary}};
\end{tikzpicture}
\end{document}
